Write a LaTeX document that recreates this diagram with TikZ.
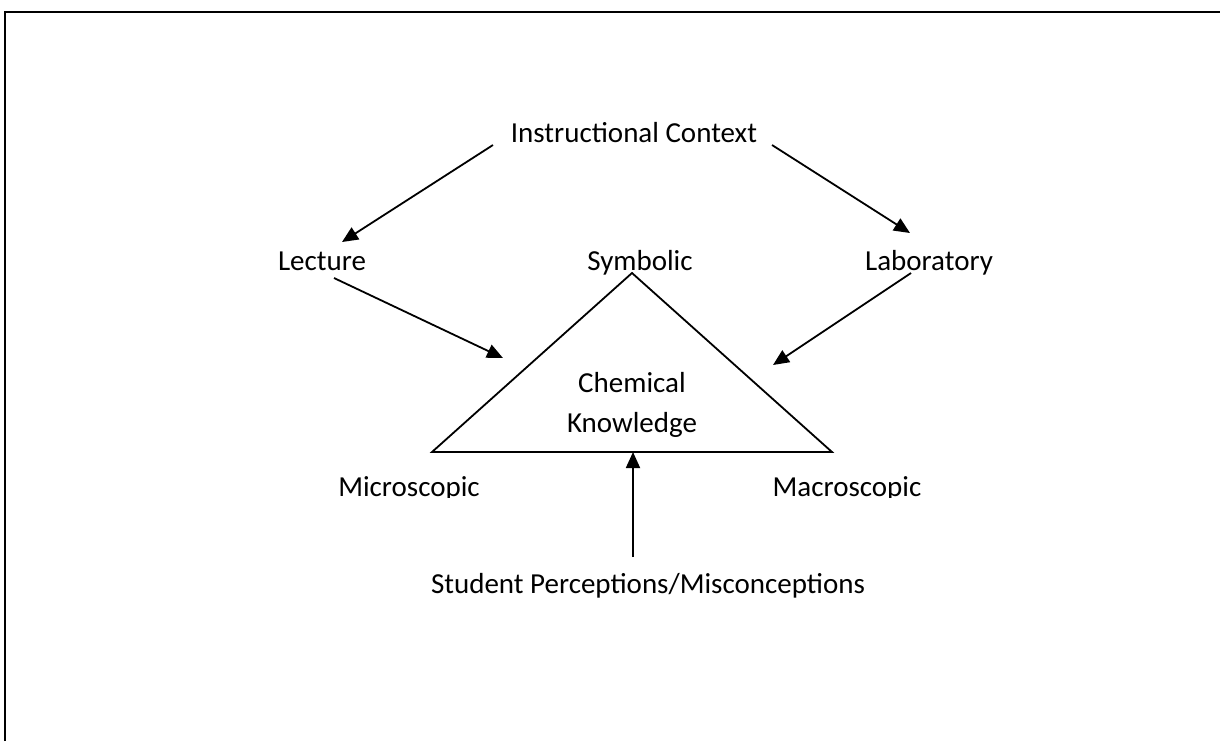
\documentclass[tikz,border=0pt]{standalone}
\usepackage{fontspec}
\setmainfont{Carlito}
\usetikzlibrary{arrows.meta, positioning, calc}

\begin{document}
\begin{tikzpicture}[x=0.5pt, y=-0.5pt, lbl/.style={inner sep=0pt, anchor=base, font=\fontsize{14.5}{20}\selectfont}, arr/.style={-{Triangle[length=8pt, width=7pt]}, line width=0.9pt}]

                                \useasboundingbox (0,0) rectangle (1220,741);
                                \draw[line width=1.3pt] (5,741) -- (5,12) -- (1220,12);

                                \node (ctx) [lbl] at (634,142) {Instructional Context};
                                \node (lec) [lbl] at (322,270) {Lecture};
                                \node (sym) [lbl] at (640,270) {Symbolic};
                                \node (lab) [lbl] at (929,270) {Laboratory};
                                \node (chem) [lbl, align=center] at (632,432) {Chemical\\Knowledge};
                                \begin{scope}
                                \clip (300,460) rectangle (960,497);
                                \node (micro) [lbl] at (409,496) {Microscopic};
                                \node (macro) [lbl] at (847,496) {Macroscopic};
                                \end{scope}
                                \node (stud) [lbl] at (648,593) {Student Perceptions/Misconceptions};

                                \coordinate (top) at (632,273);
                                \coordinate (left) at (432,452);
                                \coordinate (right) at (832,452);
                                \draw[line width=0.9pt, line join=miter] (top) -- (left) -- (right) -- cycle;

                                \coordinate (lec-in) at (503,358);
                                \coordinate (lab-in) at (773,365);
                                \coordinate (stud-in) at (633,452);

                                \draw[arr] ($(ctx.base)+(-141,3)$) to ($(lec.base)+(20,-28)$);
                                \draw[arr] ($(ctx.base)+(138,3)$) to ($(lab.base)+(-19,-37)$);
                                \draw[arr] ($(lec.base)+(12,8)$) to (lec-in);
                                \draw[arr] ($(lab.base)+(-18,3)$) to (lab-in);
                                \draw[arr] ($(stud.base)+(-15,-36)$) to (stud-in);
                        \end{tikzpicture}
\end{document}
